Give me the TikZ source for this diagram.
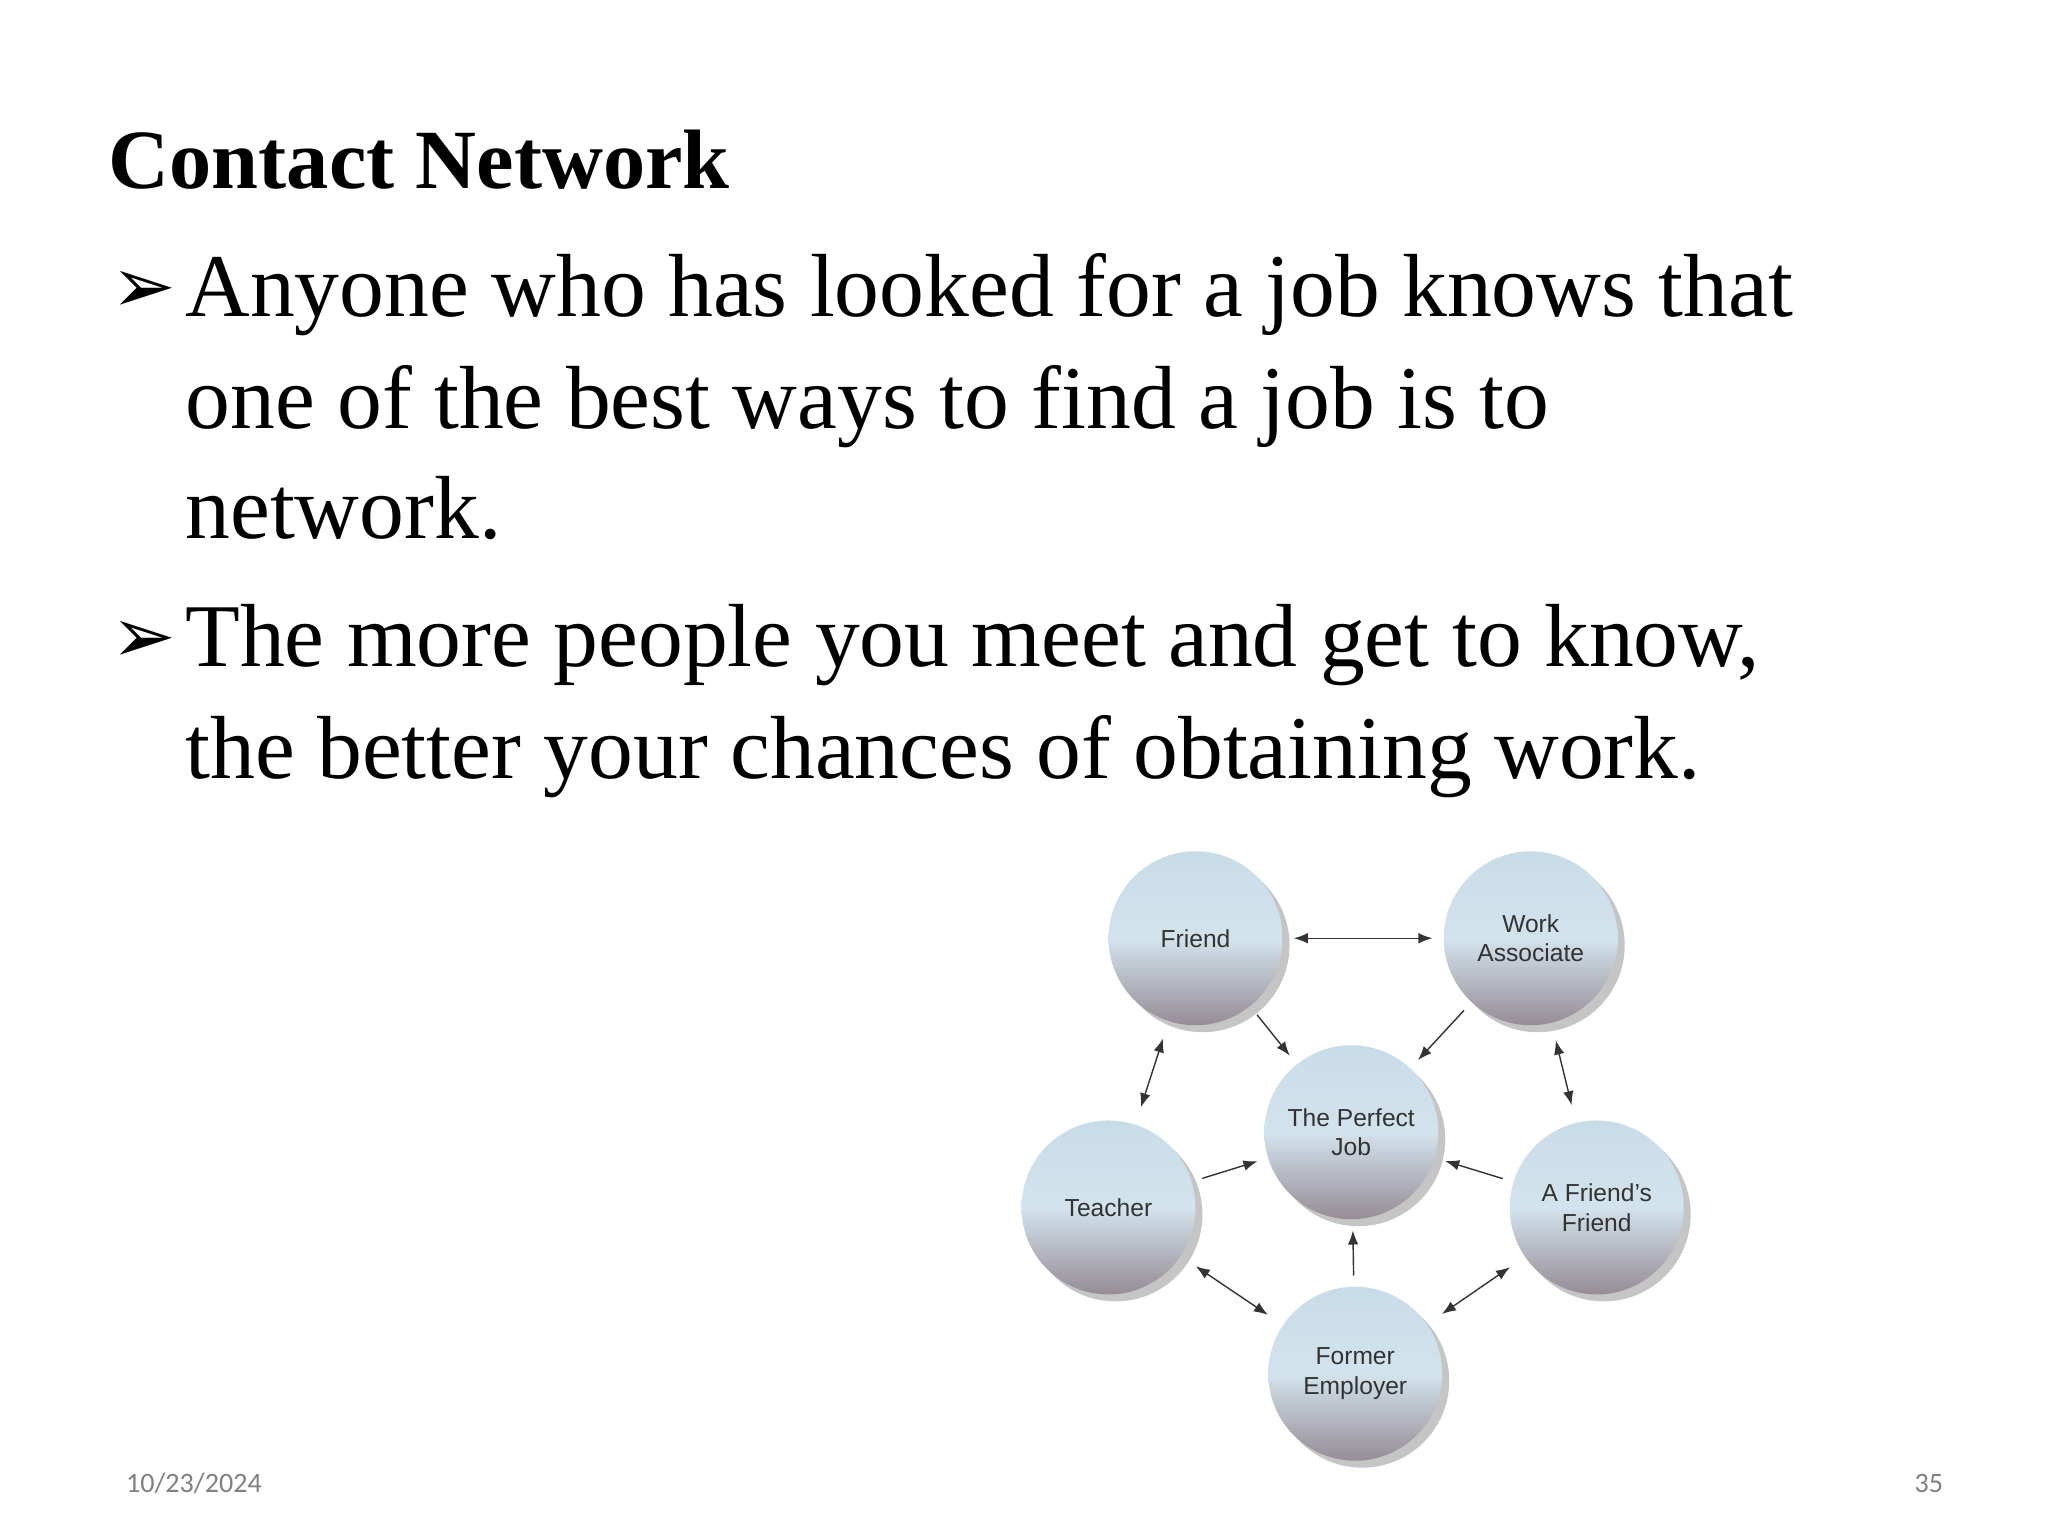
\documentclass[tikz,border=0pt]{standalone}
\usepackage{fontspec}
\setmainfont{Liberation Serif}
\newfontfamily\diag{Liberation Sans}
\newfontfamily\foot{Carlito}
\newfontfamily\sym{DejaVu Sans}
\usetikzlibrary{arrows.meta,shadows}
\definecolor{ballTop}{RGB}{200,220,232}
\definecolor{ballBot}{RGB}{150,140,150}
\begin{document}
\begin{tikzpicture}[x=0.013196cm,y=-0.013196cm,
  ball/.style={circle,minimum size=1.74cm,inner sep=0,top color=ballTop,bottom color=ballBot,middle color=ballTop!80!white,
    drop shadow={shadow xshift=0.07cm,shadow yshift=-0.07cm,fill=black!45,opacity=0.5},
    font=\diag\fontsize{7}{8.5}\selectfont,text=black!80,align=center},
  arr/.style={-{Latex[length=4pt,width=3pt]},thin,black!80},
  darr/.style={{Latex[length=4pt,width=3pt]}-{Latex[length=4pt,width=3pt]},thin,black!80},
  body/.style={anchor=base west,font=\fontsize{25.5}{30}\selectfont,inner sep=0}]
\useasboundingbox (0,0) rectangle (1552,1164);
\node[anchor=base west,inner sep=0,font=\bfseries\fontsize{24}{30}\selectfont] (title) at (82,143) {Contact Network};
\node[anchor=base west,inner sep=0,font=\sym\fontsize{22}{26}\selectfont] (b1) at (84,237) {➢};
\node[body] (t1) at (140,240) {Anyone who has looked for a job knows that};
\node[body] (t2) at (140,325) {one of the best ways to find a job is to};
\node[body] (t3) at (140,408) {network.};
\node[anchor=base west,inner sep=0,font=\sym\fontsize{22}{26}\selectfont] (b2) at (84,502) {➢};
\node[body] (t4) at (140,505) {The more people you meet and get to know,};
\node[body] (t5) at (140,590) {the better your chances of obtaining work.};
\node[ball] (fr) at (906,711) {Friend};
\node[ball] (wa) at (1160,711) {Work\\Associate};
\node[ball] (pj) at (1024,858) {The Perfect\\Job};
\node[ball] (te) at (840,915) {Teacher};
\node[ball] (ff) at (1210,915) {A Friend’s\\Friend};
\node[ball] (fe) at (1027,1041) {Former\\Employer};
\draw[darr,shorten <=3pt,shorten >=3pt] (fr) -- (wa);
\draw[arr,shorten <=3pt,shorten >=3pt] (fr) -- (pj);
\draw[arr,shorten <=3pt,shorten >=3pt] (wa) -- (pj);
\draw[darr,shorten <=5pt,shorten >=5pt] (fr) -- (te);
\draw[darr,shorten <=5pt,shorten >=5pt] (wa) -- (ff);
\draw[arr,shorten <=3pt,shorten >=3pt] (te) -- (pj);
\draw[arr,shorten <=3pt,shorten >=3pt] (ff) -- (pj);
\draw[darr,shorten <=5pt,shorten >=5pt] (te) -- (fe);
\draw[darr,shorten <=5pt,shorten >=5pt] (ff) -- (fe);
\draw[arr,shorten <=3pt,shorten >=3pt] (fe) -- (pj);
\node[anchor=base west,inner sep=0,text=black!50,font=\foot\fontsize{8}{10}\selectfont] (d) at (95,1131) {10/23/2024};
\node[anchor=base east,inner sep=0,text=black!50,font=\foot\fontsize{8}{10}\selectfont] (p) at (1473,1131) {35};
\end{tikzpicture}
\end{document}
